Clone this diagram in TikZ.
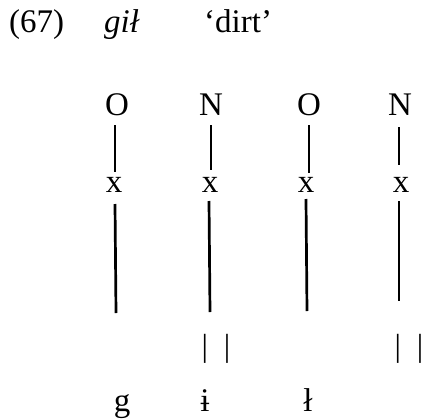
\documentclass[tikz,border=0pt]{standalone}
\usepackage{fontspec}
\setmainfont{Liberation Serif}
\begin{document}
\begin{tikzpicture}[x=1pt,y=-1pt,
  lbl/.style={inner sep=0pt,anchor=base,font=\fontsize{33}{39}\selectfont},
  bar/.style={inner sep=0pt,anchor=base,font=\fontsize{32}{38}\selectfont},
  assoc/.style={line width=2.7pt}]
\useasboundingbox (0,0) rectangle (423,418);
% title
\node[lbl,anchor=base west] (num) at (9,32) {(67)};
\node[lbl,anchor=base west] (word) at (104,32) {\itshape gił};
\node[lbl,anchor=base west] (gloss) at (204,32) {‘dirt’};
% tier labels
\node[lbl] (O1) at (117,115) {O};
\node[lbl] (N1) at (211,115) {N};
\node[lbl] (O2) at (309,115) {O};
\node[lbl] (N2) at (400,115) {N};
% x slots
\node[lbl] (x1) at (114,192) {x};
\node[lbl] (x2) at (210,192) {x};
\node[lbl] (x3) at (306,192) {x};
\node[lbl] (x4) at (401,192) {x};
% line end points
\coordinate (a1) at (115,125); \coordinate (b1) at (115,172);
\coordinate (c1) at (115,204); \coordinate (d1) at (116,313);
\coordinate (a2) at (211,125); \coordinate (b2) at (211,170);
\coordinate (c2) at (209,201); \coordinate (d2) at (210,312);
\coordinate (a3) at (309,125); \coordinate (b3) at (309,173);
\coordinate (c3) at (306,199); \coordinate (d3) at (307,311);
\coordinate (a4) at (399,127); \coordinate (b4) at (399,165);
\coordinate (c4) at (399,201); \coordinate (d4) at (399,301);
\foreach \i in {1,2,3,4}{
  \draw[assoc] (a\i) -- (b\i);
  \draw[assoc] (c\i) -- (d\i);
}
% bars
\node[bar] (bar1) at (216,356) {|\hspace{16pt}|};
\node[bar] (bar2) at (409,356) {|\hspace{16pt}|};
% segments
\node[lbl] (g) at (122,411) {g};
\node[lbl] (i) at (205,411) {ɨ};
\node[lbl] (l) at (308,411) {ł};
\end{tikzpicture}
\end{document}
